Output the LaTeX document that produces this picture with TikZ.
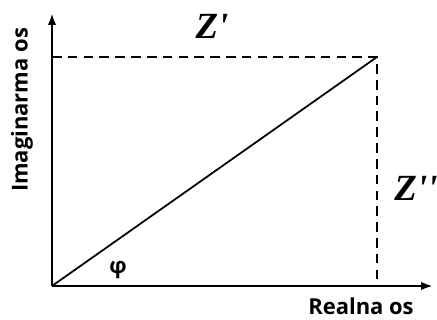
\documentclass[tikz,border=0pt]{standalone}
\usepackage{fontspec}
\setmainfont{Liberation Serif}
\setsansfont{Open Sans}
\usetikzlibrary{arrows.meta, positioning, calc}

\begin{document}
\begin{tikzpicture}[
  x=0.02cm, y=-0.02cm,
  axis/.style={line width=1.3pt, -{Latex[length=2.4mm, width=1.7mm]}},
  guide/.style={line width=1.1pt, dash pattern=on 5.5pt off 3.5pt},
  lbl/.style={font=\sffamily\bfseries\fontsize{12.5}{14}\selectfont},
  zlbl/.style={font=\rmfamily\bfseries\itshape\fontsize{21}{24}\selectfont}
]
  \useasboundingbox (0,0) rectangle (437,320);
  \coordinate (O) at (52,286);
  \coordinate (Xend) at (433,286);
  \coordinate (Yend) at (52,13);
  \coordinate (Z) at (377,57);
  % axes
  \draw[axis] (O) -- (Xend);
  \draw[axis] (O) -- (Yend);
  % projections of Z
  \draw[guide] (O |- Z) -- (Z) -- (Z |- O);
  \draw[line width=1pt] (O) -- (Z);
  \node[zlbl] (zre) at (212,26) {Z\textquotesingle};
  \node[zlbl] (zim) at (416,188) {Z\textquotesingle\textquotesingle};
  \node[lbl] (phi) at (118,270) {φ};
  \node[lbl, inner sep=1pt] (re) at (361,306) {Realna os};
  \node[lbl, rotate=90] (im) at (22,110) {Imaginarma os};
\end{tikzpicture}
\end{document}
